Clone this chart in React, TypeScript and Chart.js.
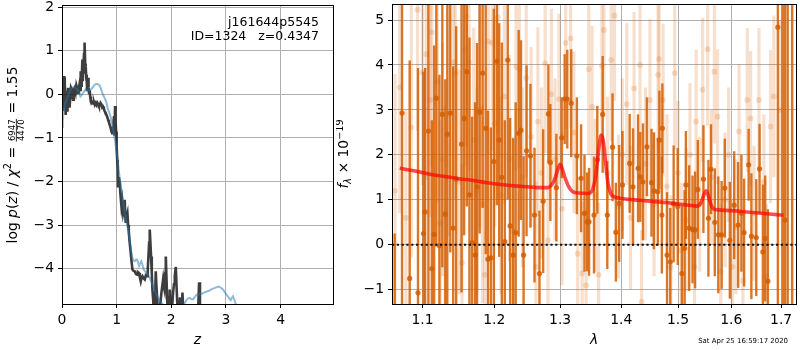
import React, { useEffect, useRef } from 'react';
import { Chart, registerables } from 'chart.js';

Chart.register(...registerables);

const FONT = "'DejaVu Sans', 'Liberation Sans', sans-serif";

// ---------- left panel: log p(z) ----------
const zFit = [
  0.000, 0.008, 0.016, 0.024, 0.032, 0.040, 0.049, 0.058, 0.068, 0.080,
  0.092, 0.100, 0.110, 0.120, 0.129, 0.140, 0.153, 0.165, 0.178, 0.190,
  0.202, 0.215, 0.233, 0.250, 0.263, 0.280, 0.294, 0.310, 0.324, 0.333,
  0.342, 0.352, 0.361, 0.373, 0.380, 0.385, 0.395, 0.404, 0.410, 0.416,
  0.425, 0.434, 0.446, 0.452, 0.458, 0.468, 0.477, 0.486, 0.495, 0.507,
  0.516, 0.526, 0.538, 0.550, 0.568, 0.585, 0.599, 0.615, 0.630, 0.645,
  0.660, 0.675, 0.690, 0.705, 0.721, 0.736, 0.751, 0.766, 0.782, 0.797,
  0.813, 0.828, 0.843, 0.858, 0.874, 0.889, 0.904, 0.915, 0.922, 0.935,
  0.945, 0.953, 0.962, 0.971, 0.980, 0.990, 1.000, 1.010, 1.020, 1.026,
  1.040, 1.057, 1.070, 1.088, 1.100, 1.118, 1.135, 1.148, 1.158, 1.167,
  1.180, 1.197, 1.210, 1.222, 1.235, 1.252, 1.270, 1.289, 1.310, 1.331,
  1.352, 1.374, 1.390, 1.410, 1.425, 1.441, 1.456, 1.472, 1.490, 1.515,
  1.535, 1.557, 1.570, 1.582, 1.595, 1.606, 1.618, 1.630, 1.643, 1.655,
  1.668, 1.680, 1.695, 1.716, 1.728, 1.740, 1.760, 1.780, 1.800, 1.820,
  1.835, 1.850, 1.862, 1.875, 1.890, 1.900, 1.912, 1.923, 1.940, 1.960,
  1.972, 1.990, 2.010, 2.033, 2.050, 2.064, 2.083, 2.100, 2.120, 2.140,
  2.160, 2.180, 2.205, 2.225, 2.260, 2.300, 2.350, 2.400, 2.450, 2.490,
  2.509, 2.525, 2.560, 2.650,
];
const logpFit = [
  -0.35, 0.30, -0.10, 0.42, 0.05, 0.38, 0.41, -0.20, -0.47, -0.05,
  -0.12, -0.40, 0.15, -0.10, -0.28, 0.05, -0.05, 0.15, 0.11, -0.05,
  -0.12, 0.10, 0.15, 0.05, 0.20, 0.12, 0.03, 0.15, 0.26, 0.10,
  0.53, 0.20, 0.34, 0.80, 0.30, 0.50, 0.75, 0.95, 0.60, 1.19,
  0.70, 0.64, 0.34, 0.45, 0.10, 0.25, 0.38, 0.15, 0.03, 0.10,
  -0.05, -0.16, -0.20, -0.18, -0.21, -0.18, -0.24, -0.20, -0.24, -0.19,
  -0.22, -0.27, -0.26, -0.20, -0.23, -0.30, -0.28, -0.33, -0.39, -0.42,
  -0.47, -0.52, -0.58, -0.64, -0.70, -0.76, -0.85, -0.80, -0.92, -0.77,
  -0.60, -0.50, -0.95, -0.27, -0.60, -0.85, -1.19, -1.50, -1.70, -2.11,
  -1.90, -2.03, -2.30, -2.57, -2.45, -2.72, -2.60, -2.42, -2.80, -2.95,
  -2.80, -2.72, -3.00, -3.14, -3.35, -3.56, -3.80, -4.02, -4.05, -4.06,
  -4.12, -4.14, -4.08, -4.10, -4.20, -4.29, -4.20, -4.17, -4.22, -4.25,
  -4.15, -4.17, -4.00, -3.72, -3.40, -3.10, -3.40, -3.72, -4.10, -4.48,
  -4.70, -4.95, -5.20, -4.06, -4.40, -4.63, -5.10, -5.00, -4.80, -4.55,
  -4.40, -4.25, -4.40, -4.48, -4.10, -3.72, -4.20, -4.63, -5.20, -4.85,
  -4.48, -4.90, -5.00, -4.55, -4.35, -4.17, -3.96, -4.50, -5.10, -5.00,
  -4.66, -5.10, -4.55, -5.20, -5.00, -5.30, -5.20, -5.40, -5.20, -5.00,
  -4.31, -5.00, -5.40, -5.60,
];
const zPrior = [
  0.000, 0.014, 0.030, 0.049, 0.070, 0.092, 0.115, 0.140, 0.165, 0.190,
  0.210, 0.233, 0.260, 0.294, 0.315, 0.336, 0.360, 0.385, 0.410, 0.434,
  0.455, 0.477, 0.505, 0.538, 0.570, 0.599, 0.625, 0.650, 0.670, 0.690,
  0.715, 0.735, 0.751, 0.775, 0.794, 0.820, 0.843, 0.865, 0.886, 0.910,
  0.935, 0.955, 0.977, 1.008, 1.044, 1.065, 1.088, 1.118, 1.148, 1.180,
  1.209, 1.240, 1.265, 1.289, 1.310, 1.331, 1.350, 1.374, 1.392, 1.410,
  1.430, 1.453, 1.475, 1.496, 1.520, 1.545, 1.575, 1.606, 1.637, 1.667,
  1.698, 1.728, 1.760, 1.789, 1.820, 1.850, 1.900, 1.950, 2.000, 2.050,
  2.100, 2.150, 2.200, 2.240, 2.278, 2.310, 2.339, 2.370, 2.400, 2.430,
  2.460, 2.500, 2.550, 2.600, 2.640, 2.700, 2.740, 2.800, 2.860, 2.900,
  2.950, 3.000, 3.040, 3.070, 3.090, 3.110, 3.130, 3.150, 3.170, 3.200, 3.250,
];
const logpPrior = [
  -0.75, -0.60, -0.40, -0.27, -0.17, -0.09, 0.00, 0.07, 0.12, 0.15,
  0.17, 0.17, 0.13, 0.09, 0.02, -0.05, -0.01, 0.03, 0.08, 0.12,
  0.10, 0.09, 0.10, 0.12, 0.17, 0.22, 0.24, 0.24, 0.22, 0.20,
  0.12, 0.04, -0.01, -0.07, -0.12, -0.22, -0.35, -0.42, -0.50, -0.62,
  -0.81, -0.95, -1.11, -1.42, -1.80, -2.00, -2.19, -2.45, -2.72, -2.92,
  -3.10, -3.37, -3.58, -3.75, -3.82, -3.83, -3.80, -3.79, -3.86, -3.94,
  -3.88, -3.83, -3.92, -4.02, -4.06, -4.10, -4.15, -4.21, -4.30, -4.40,
  -4.50, -4.59, -4.67, -4.74, -4.79, -4.82, -4.90, -4.95, -4.97, -4.95,
  -4.93, -4.90, -4.86, -4.80, -4.72, -4.68, -4.67, -4.70, -4.70, -4.65,
  -4.60, -4.59, -4.58, -4.55, -4.53, -4.50, -4.47, -4.44, -4.41, -4.43,
  -4.48, -4.58, -4.64, -4.70, -4.72, -4.66, -4.63, -4.70, -4.78, -4.86, -5.00,
];
const zTicks = [0, 1, 2, 3, 4];
const logpTicks = [-4, -3, -2, -1, 0, 1, 2];

// ---------- right panel: spectrum ----------
const waveDark = [
  1.0635, 1.0730, 1.0830, 1.0940, 1.1013, 1.1035, 1.1079, 1.1125, 1.1156, 1.1186,
  1.1228, 1.1268, 1.1309, 1.1336, 1.1377, 1.1418, 1.1459, 1.1534, 1.1570, 1.1608,
  1.1645, 1.1683, 1.1725, 1.1753, 1.1790, 1.1833, 1.1877, 1.1909, 1.1952, 1.1995,
  1.2039, 1.2073, 1.2112, 1.2156, 1.2199, 1.2235, 1.2279, 1.2317, 1.2362, 1.2397,
  1.2436, 1.2481, 1.2540, 1.2602, 1.2678, 1.2735, 1.2816, 1.2847, 1.2941, 1.3025,
  1.3072, 1.3113, 1.3176, 1.3267, 1.3335, 1.3390, 1.3433, 1.3465, 1.3546, 1.3600,
  1.3689, 1.3766, 1.3854, 1.3910, 1.3966, 1.4022, 1.4145, 1.4203, 1.4290, 1.4329,
  1.4375, 1.4444, 1.4525, 1.4567, 1.4637, 1.4665, 1.4709, 1.4718, 1.4802, 1.4860,
  1.4921, 1.4995, 1.5071, 1.5121, 1.5144, 1.5205, 1.5267, 1.5314, 1.5365, 1.5470,
  1.5564, 1.5613, 1.5685, 1.5752, 1.5815, 1.5877, 1.5974, 1.6058, 1.6136, 1.6200,
  1.6253, 1.6343, 1.6397, 1.6495, 1.6561, 1.6628, 1.6675, 1.6729, 1.6933, 1.7034,
  1.7082, 1.7136, 1.7230,
];
const fluxDark = [
  -2.20, 2.93, -0.75, -1.07, 0.25, 0.73, 2.53, -0.53, 0.23, 3.26,
  -0.02, 2.90, 0.68, 2.46, 2.93, 0.37, 1.46, 2.24, 2.81, 3.85,
  1.11, 0.05, -0.23, 1.29, 2.95, 3.82, 2.59, -0.32, -0.29, 1.85,
  4.08, 2.33, 1.50, 0.07, 4.11, 0.42, -0.23, 0.27, 2.48, 2.55,
  -0.23, 2.09, 1.98, 0.66, -0.64, 0.97, 2.91, 1.83, 1.27, 2.38,
  3.24, 3.24, 3.15, 1.98, 1.48, 0.70, 0.51, 0.51, 0.66, 1.89,
  2.90, 0.66, 2.17, 0.28, 0.92, 1.33, 1.81, 1.29, 1.70, 1.51,
  1.40, 2.18, 1.38, 1.20, 1.18, 2.33, 0.66, 2.59, -0.23, -0.38,
  0.91, 0.85, -0.64, -0.08, 1.33, 0.37, 0.34, 0.33, 1.23, 1.46,
  0.59, 1.68, 0.50, 0.22, 0.22, 1.26, 0.10, 0.88, 0.44, 0.70,
  0.27, 1.78, 0.19, 0.16, 1.69, -0.16, 0.14, -0.81, 4.84, 6.50,
  0.55, 6.50, 6.50,
];
const errDark = [
  2.45, 4.6, 4.85, 5.0, 3.6, 3.2, 3.9, 3.3, 4.2, 3.3,
  3.8, 3.4, 3.0, 3.9, 3.1, 3.6, 3.4, 3.3, 2.6, 3.0,
  3.5, 2.8, 3.4, 3.2, 2.7, 3.0, 2.8, 3.3, 2.9, 3.4,
  3.2, 2.6, 3.0, 2.7, 3.1, 2.4, 2.6, 2.9, 2.3, 2.0,
  2.2, 1.9, 1.6, 1.5, 1.4, 1.6, 1.1, 1.3, 1.2, 0.9,
  1.0, 1.1, 1.2, 1.3, 1.2, 1.3, 1.1, 1.2, 1.3, 1.2,
  1.3, 1.2, 1.2, 1.1, 1.3, 1.2, 1.1, 1.3, 1.2, 1.0,
  1.3, 1.1, 1.2, 1.3, 1.2, 1.1, 1.3, 1.0, 1.4, 1.2,
  1.3, 1.3, 1.5, 1.3, 1.2, 1.4, 1.2, 1.3, 1.1, 1.2,
  1.3, 1.0, 1.2, 1.3, 1.2, 1.1, 1.3, 1.2, 1.4, 1.3,
  1.2, 0.8, 1.4, 1.3, 1.0, 1.5, 1.4, 1.6, 12, 12,
  12, 12, 12,
];
const waveLight = [
  1.0640, 1.0700, 1.0780, 1.0851, 1.0934, 1.1000, 1.1050, 1.1103, 1.1125, 1.1200,
  1.1237, 1.1270, 1.1305, 1.1360, 1.1424, 1.1446, 1.1500, 1.1540, 1.1584, 1.1603,
  1.1640, 1.1706, 1.1750, 1.1790, 1.1830, 1.1862, 1.1915, 1.1972, 1.2010, 1.2053,
  1.2100, 1.2150, 1.2224, 1.2280, 1.2323, 1.2372, 1.2420, 1.2477, 1.2550, 1.2624,
  1.2654, 1.2710, 1.2766, 1.2810, 1.2862, 1.2920, 1.2982, 1.3030, 1.3088, 1.3167,
  1.3220, 1.3280, 1.3351, 1.3416, 1.3460, 1.3514, 1.3570, 1.3622, 1.3677, 1.3710,
  1.3770, 1.3832, 1.3887, 1.3954, 1.4020, 1.4095, 1.4160, 1.4221, 1.4324, 1.4351,
  1.4420, 1.4498, 1.4570, 1.4642, 1.4660, 1.4731, 1.4800, 1.4870, 1.4940, 1.5000,
  1.5059, 1.5150, 1.5220, 1.5304, 1.5333, 1.5400, 1.5457, 1.5550, 1.5620, 1.5677,
  1.5738, 1.5800, 1.5880, 1.5950, 1.6025, 1.6090, 1.6154, 1.6230, 1.6316, 1.6382,
  1.6450, 1.6549, 1.6648, 1.6700, 1.6782, 1.6851, 1.6984,
];
const fluxLight = [
  1.20, 3.50, 0.60, 2.61, 5.23, 3.83, 4.24, 3.22, 4.73, 3.63,
  0.48, 1.90, 0.70, 2.90, 4.06, 3.82, 1.40, -0.40, 4.34, 5.08,
  4.06, 2.33, 1.20, 3.00, 0.90, -0.67, 4.52, 4.49, 2.70, 5.06,
  1.10, 3.30, 1.92, 0.30, 3.96, 3.91, 1.50, 3.71, 2.40, -0.49,
  2.74, 1.60, 4.04, 0.10, 3.35, 1.90, 3.24, 0.80, 4.49, 4.59,
  2.50, -0.20, -0.64, -0.90, 3.91, 3.07, 1.10, -0.67, 3.98, 4.78,
  1.60, 4.11, 5.10, 0.85, 2.00, 3.13, 0.60, 3.48, 4.00, -1.27,
  1.80, 3.22, 0.90, 3.78, 4.13, 3.22, 1.30, -0.50, 3.82, 1.60,
  -0.12, 0.55, 2.00, -0.49, 2.74, 0.90, 3.45, 4.35, 1.50, 3.85,
  2.85, -0.60, 1.00, 2.00, -0.49, 0.40, 2.52, -0.80, 3.22, 2.81,
  0.70, 3.22, 1.40, -0.70, 2.63, 3.30, 3.00,
];
const errLight = [
  2.6, 2.8, 2.4, 2.9, 2.7, 2.5, 2.8, 2.6, 3.0, 2.7,
  2.3, 2.6, 2.4, 2.7, 2.6, 2.8, 2.5, 2.2, 2.6, 2.9,
  2.4, 2.5, 2.3, 2.6, 2.2, 2.1, 2.5, 2.4, 2.3, 2.6,
  2.2, 2.4, 2.3, 2.1, 2.3, 2.2, 2.0, 2.2, 2.0, 1.9,
  2.1, 1.9, 2.0, 1.8, 1.9, 1.8, 1.9, 1.7, 1.9, 2.0,
  1.8, 1.7, 1.6, 1.7, 1.9, 1.8, 1.7, 1.6, 1.8, 1.9,
  1.7, 1.8, 1.9, 1.6, 1.7, 1.8, 1.6, 1.7, 1.8, 1.6,
  1.7, 1.8, 1.6, 1.7, 1.8, 1.7, 1.6, 1.6, 1.7, 1.6,
  1.5, 1.6, 1.6, 1.5, 1.6, 1.5, 1.6, 1.7, 1.5, 1.6,
  1.5, 1.5, 1.5, 1.5, 1.5, 1.5, 1.5, 1.5, 1.6, 1.5,
  1.5, 1.6, 1.5, 1.6, 1.7, 1.8, 2.0,
];
const waveModel = [
  1.070, 1.090, 1.110, 1.130, 1.150, 1.170, 1.190, 1.210, 1.230, 1.250,
  1.270, 1.280, 1.286, 1.292, 1.297, 1.300, 1.303, 1.308, 1.314, 1.320,
  1.330, 1.345, 1.352, 1.357, 1.361, 1.365, 1.367, 1.370, 1.374, 1.378,
  1.383, 1.390, 1.400, 1.430, 1.460, 1.490, 1.520, 1.535, 1.543, 1.548,
  1.552, 1.556, 1.561, 1.566, 1.572, 1.600, 1.630, 1.660, 1.690, 1.705,
];
const fluxModel = [
  1.70, 1.64, 1.57, 1.52, 1.47, 1.43, 1.38, 1.34, 1.31, 1.29,
  1.27, 1.27, 1.32, 1.48, 1.70, 1.79, 1.70, 1.48, 1.28, 1.18,
  1.15, 1.14, 1.22, 1.50, 1.95, 2.38, 2.44, 2.30, 1.80, 1.35,
  1.12, 1.06, 1.03, 0.99, 0.96, 0.92, 0.88, 0.86, 0.95, 1.12,
  1.20, 1.10, 0.90, 0.80, 0.78, 0.76, 0.73, 0.70, 0.67, 0.66,
];
const waveTicks = [1.1, 1.2, 1.3, 1.4, 1.5, 1.6, 1.7];
const fluxTicks = [-1, 0, 1, 2, 3, 4, 5];

const objName = 'j161644p5545';
const idLabel = 'ID=1324   z=0.4347';
const dateStamp = 'Sat Apr 25 16:59:17 2020';

// ---------- helpers ----------
const minus = (v: number) => (v < 0 ? '\u2212' + Math.abs(v) : String(v));

type Seg = { t?: string; size?: number; it?: boolean; dy?: number; num?: string; den?: string };
const segFont = (s: Seg) => `${s.it ? 'italic ' : ''}${s.size ?? 13.9}px ${FONT}`;
function segWidth(ctx: CanvasRenderingContext2D, s: Seg) {
  ctx.font = segFont(s);
  if (s.num !== undefined) return Math.max(ctx.measureText(s.num).width, ctx.measureText(s.den || '').width) + 3;
  return ctx.measureText(s.t || '').width;
}
function drawRich(ctx: CanvasRenderingContext2D, segs: Seg[], x: number, y: number) {
  const total = segs.reduce((w, s) => w + segWidth(ctx, s), 0);
  let cx = x - total / 2;
  ctx.textBaseline = 'alphabetic';
  for (const s of segs) {
    const w = segWidth(ctx, s);
    ctx.font = segFont(s);
    if (s.num !== undefined) {
      ctx.textAlign = 'center';
      ctx.fillText(s.num, cx + w / 2, y - 2);
      ctx.fillText(s.den || '', cx + w / 2, y + 7.5);
      ctx.fillRect(cx + 1, y - 0.6, w - 2, 0.8);
      ctx.textAlign = 'left';
    } else {
      ctx.textAlign = 'left';
      ctx.fillText(s.t || '', cx, y + (s.dy ?? 0));
    }
    cx += w;
  }
}

const leftYSegs: Seg[] = [
  { t: 'log ' }, { t: 'p', it: true }, { t: '(' }, { t: 'z', it: true }, { t: ')' },
  { t: ' / ' }, { t: 'χ', it: true }, { t: '2', size: 9.7, dy: -5.5 }, { t: ' = ' },
  { num: '6947', den: '4470', size: 8.5 }, { t: ' = 1.55' },
];
const rightYSegs: Seg[] = [
  { t: 'f', it: true }, { t: 'λ', it: true, size: 9.7, dy: 3 }, { t: ' × 10' },
  { t: '\u221219', size: 9.7, dy: -5.5 },
];

const align = (v: number) => Math.round(v - 0.5) + 0.5;

const framePlugin = {
  id: 'frame',
  afterDraw(chart: any) {
    const { ctx, chartArea: a } = chart;
    ctx.save();
    ctx.strokeStyle = '#000';
    ctx.lineWidth = 1;
    const l = align(a.left), t = align(a.top), r = align(a.right), b = align(a.bottom);
    ctx.strokeRect(l, t, r - l, b - t);
    ctx.restore();
  },
};

const leftText = {
  id: 'leftText',
  afterDraw(chart: any) {
    const { ctx, chartArea: a } = chart;
    ctx.save();
    ctx.fillStyle = '#000';
    ctx.font = `12.5px ${FONT}`;
    ctx.textAlign = 'right';
    ctx.textBaseline = 'alphabetic';
    ctx.fillText(objName, 319, 26);
    ctx.fillText(idLabel, 319, 40);
    ctx.font = `italic 13.9px ${FONT}`;
    ctx.textAlign = 'center';
    ctx.fillText('z', (a.left + a.right) / 2, 344);
    ctx.translate(16.5, 155);
    ctx.rotate(-Math.PI / 2);
    drawRich(ctx, leftYSegs, 0, 0);
    ctx.restore();
  },
};

const rightText = {
  id: 'rightText',
  afterDraw(chart: any) {
    const { ctx, chartArea: a } = chart;
    ctx.save();
    ctx.fillStyle = '#000';
    ctx.font = `italic 13.9px ${FONT}`;
    ctx.textAlign = 'center';
    ctx.textBaseline = 'alphabetic';
    ctx.fillText('λ', (a.left + a.right) / 2, 344);
    ctx.font = `6.95px ${FONT}`;
    ctx.textAlign = 'right';
    ctx.fillText(dateStamp, 452, 342.5);
    ctx.translate(12, 154);
    ctx.rotate(-Math.PI / 2);
    drawRich(ctx, rightYSegs, 0, 0);
    ctx.restore();
  },
};

const tickFont = { family: FONT, size: 13.9 };
const gridOpts = { color: '#b0b0b0', lineWidth: 1, tickColor: '#000', tickWidth: 1, tickLength: 4, offset: false };

function xAxis(extra: any, ticks: number[], fmt: (v: number) => string) {
  return {
    ...extra,
    offset: false,
    afterFit: (s: any) => { s.height = 46; s.paddingLeft = 0; s.paddingRight = 0; },
    afterBuildTicks: (s: any) => { s.ticks = ticks.map((v) => ({ value: v })); },
    ticks: { callback: (v: any) => fmt(Number(v)), color: '#000', font: tickFont, padding: 4, maxRotation: 0, autoSkip: false },
    grid: gridOpts,
    border: { display: false },
  };
}
function yAxis(extra: any, width: number, ticks: number[]) {
  return {
    ...extra,
    afterFit: (s: any) => { s.width = width; s.paddingTop = 0; s.paddingBottom = 0; },
    afterBuildTicks: (s: any) => { s.ticks = ticks.map((v) => ({ value: v })); },
    ticks: { callback: (v: any) => minus(Number(v)), color: '#000', font: tickFont, padding: 4, autoSkip: false },
    grid: gridOpts,
    border: { display: false },
  };
}

export default function App() {
  const leftRef = useRef<HTMLCanvasElement>(null);
  const rightRef = useRef<HTMLCanvasElement>(null);

  useEffect(() => {
    const left = new Chart(leftRef.current as HTMLCanvasElement, {
      type: 'line',
      data: {
        datasets: [
          {
            data: zPrior.map((z, i) => ({ x: z, y: logpPrior[i] })),
            borderColor: 'rgba(31,119,180,0.5)',
            borderWidth: 2,
            pointRadius: 0,
            tension: 0,
            clip: 0,
          },
          {
            data: zFit.map((z, i) => ({ x: z, y: logpFit[i] })),
            borderColor: 'rgba(20,20,20,0.82)',
            borderWidth: 2.6,
            pointRadius: 0,
            tension: 0,
            clip: 0,
          },
        ],
      } as any,
      options: {
        animation: false,
        responsive: false,
        maintainAspectRatio: false,
        devicePixelRatio: 1,
        layout: { padding: { top: 5, right: 3, left: 0, bottom: 0 } },
        plugins: { legend: { display: false }, tooltip: { enabled: false } },
        scales: {
          x: xAxis({ type: 'linear', min: 0, max: 4.96 }, zTicks, minus),
          y: yAxis({ type: 'linear', min: -4.81, max: 2.05 }, 62, logpTicks),
        },
      } as any,
      plugins: [framePlugin, leftText],
    });

    const errBars = (w: number[], f: number[], e: number[]) =>
      w.map((x, i) => ({ x, y: [f[i] - e[i], f[i] + e[i]] }));
    const pts = (w: number[], f: number[]) => w.map((x, i) => ({ x, y: f[i] }));

    const right = new Chart(rightRef.current as HTMLCanvasElement, {
      type: 'scatter',
      data: {
        datasets: [
          {
            type: 'line',
            data: [{ x: 1.06, y: 0 }, { x: 1.731, y: 0 }],
            borderColor: '#111',
            borderWidth: 2,
            borderDash: [2.2, 2.6],
            pointRadius: 0,
            clip: 0,
          },
          {
            type: 'line',
            data: pts(waveModel, fluxModel),
            borderColor: 'rgba(255,0,0,0.7)',
            borderWidth: 3.6,
            pointRadius: 0,
            cubicInterpolationMode: 'monotone',
            clip: 0,
          },
          {
            type: 'scatter',
            data: pts(waveDark, fluxDark),
            backgroundColor: 'rgba(213,94,0,0.85)',
            borderWidth: 0,
            pointRadius: 2.6,
            clip: 0,
          },
          {
            type: 'bar',
            data: errBars(waveDark, fluxDark, errDark),
            backgroundColor: 'rgba(213,94,0,0.85)',
            borderWidth: 0,
            barThickness: 2.4,
            grouped: false,
            inflateAmount: 0,
            clip: 0,
          },
          {
            type: 'scatter',
            data: pts(waveLight, fluxLight),
            backgroundColor: 'rgba(213,94,0,0.2)',
            borderWidth: 0,
            pointRadius: 2.9,
            clip: 0,
          },
          {
            type: 'bar',
            data: errBars(waveLight, fluxLight, errLight),
            backgroundColor: 'rgba(213,94,0,0.2)',
            borderWidth: 0,
            barThickness: 3.2,
            grouped: false,
            inflateAmount: 0,
            clip: 0,
          },
        ],
      } as any,
      options: {
        animation: false,
        responsive: false,
        maintainAspectRatio: false,
        devicePixelRatio: 1,
        layout: { padding: { top: 4, right: 1, left: 0, bottom: 0 } },
        plugins: { legend: { display: false }, tooltip: { enabled: false } },
        scales: {
          x: xAxis({ type: 'logarithmic', min: 1.06, max: 1.731 }, waveTicks, (v) => v.toFixed(1)),
          y: yAxis({ type: 'linear', min: -1.318, max: 5.356 }, 56, fluxTicks),
        },
      } as any,
      plugins: [framePlugin, rightText],
    });

    return () => {
      left.destroy();
      right.destroy();
    };
  }, []);

  return (
    <div style={{ position: 'fixed', left: 0, top: 0, width: 800, height: 350, background: '#fff', overflow: 'hidden' }}>
      <canvas ref={leftRef} width={336} height={350} style={{ position: 'absolute', left: 0, top: 0, width: 336, height: 350 }} />
      <canvas ref={rightRef} width={464} height={350} style={{ position: 'absolute', left: 336, top: 0, width: 464, height: 350 }} />
    </div>
  );
}
